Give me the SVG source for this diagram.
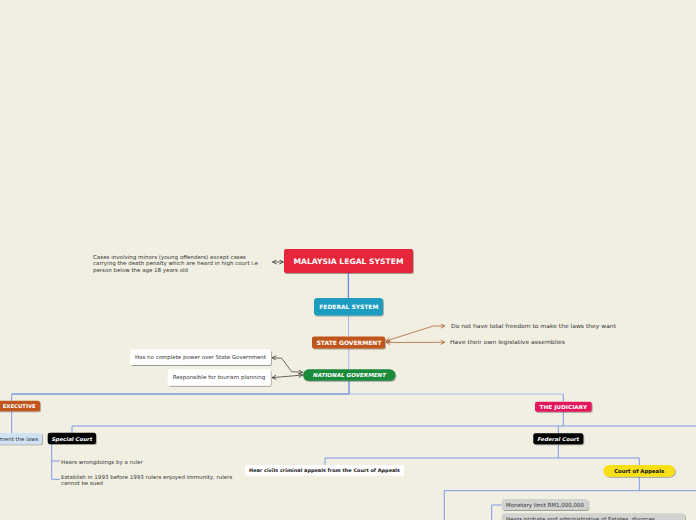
<svg xmlns="http://www.w3.org/2000/svg" width="696" height="520" viewBox="0 0 696 520">
<defs>
<filter id="sh" x="-10%" y="-20%" width="130%" height="160%">
<feDropShadow dx="0.8" dy="1" stdDeviation="0.6" flood-color="#000" flood-opacity="0.35"/>
</filter>
<marker id="ad" viewBox="0 0 6 6" refX="5.5" refY="3" markerWidth="5" markerHeight="5" orient="auto-start-reverse" markerUnits="userSpaceOnUse">
<path d="M0.5,0.5 L5.5,3 L0.5,5.5" fill="none" stroke="#444" stroke-width="1"/>
</marker>
<marker id="ao" viewBox="0 0 6 6" refX="5.5" refY="3" markerWidth="5" markerHeight="5" orient="auto-start-reverse" markerUnits="userSpaceOnUse">
<path d="M0.5,0.5 L5.5,3 L0.5,5.5" fill="none" stroke="#b0653a" stroke-width="1"/>
</marker>
</defs>
<style>
text{font-family:"DejaVu Sans","Verdana",sans-serif}
.wb{fill:#fff;font-weight:bold}
.wbi{fill:#fff;font-weight:bold;font-style:italic}
.bb{fill:#111;font-weight:bold}
.t{fill:#333}
.ln{fill:none;stroke:#7d9be8;stroke-width:1}
.lnd{fill:none;stroke:#3f6fe8;stroke-width:1}
.lnl{fill:none;stroke:#a8b8ea;stroke-width:1}
.ar{fill:none;stroke:#444;stroke-width:0.8}
.ao{fill:none;stroke:#b0653a;stroke-width:0.8}
</style>
<rect width="696" height="520" fill="#f1efe2"/>

<g id="connectors">
<path class="lnd" d="M348.3,273 V298" stroke="#2a5cf6"/>
<path class="lnl" d="M348.5,315.7 V336.5 M348.7,348.7 V369.3"/>
<path class="lnd" d="M349,380.7 V394"/>
<path class="lnd" d="M11.7,394 H349"/>
<path class="lnl" d="M349,394 H563.3"/>
<path class="ln" d="M11.7,394 V400.7 M11.7,411 V433"/>
<path class="ln" d="M563.3,394 V401.7 M563.3,411.7 V426"/>
<path class="ln" d="M72,432.7 V426 H696 M558.3,426 V433.3"/>
<path class="ln" d="M558.3,444.3 V458 M325,465 V458 H639.3 V465"/>
<path class="ln" d="M639.3,476.7 V490.7 M444.3,520 V490.7 H696"/>
<path class="ln" d="M491.7,520 V505 H501.7"/>
<path class="ln" d="M51.7,444 V479.3 H60 M51.7,461 H60"/>
<path class="ar" d="M272.5,262 H283.5" marker-start="url(#ad)" marker-end="url(#ad)"/>
<path class="ar" d="M302.7,372.3 L291.7,371.7 L281.7,358.3 L272,357.7" marker-start="url(#ad)" marker-end="url(#ad)"/>
<path class="ar" d="M302.7,375 L272,377.7" marker-start="url(#ad)" marker-end="url(#ad)"/>
<path class="ao" d="M386,341 L433.3,326 L445,326" marker-start="url(#ao)" marker-end="url(#ao)"/>
<path class="ao" d="M386,342.5 L445,342.3" marker-start="url(#ao)" marker-end="url(#ao)"/>
</g>

<g id="title">
<rect x="284" y="249" width="129" height="24" rx="2" fill="#e8283a" filter="url(#sh)"/>
<text class="wb" x="348.5" y="264" font-size="7.5" text-anchor="middle" textLength="110" lengthAdjust="spacingAndGlyphs">MALAYSIA LEGAL SYSTEM</text>
</g>

<g id="minors">
<text class="t" font-size="5.3"><tspan x="93" y="258.6" textLength="153" lengthAdjust="spacingAndGlyphs">Cases involving minors (young offenders) except cases</tspan><tspan x="93" y="265" textLength="165" lengthAdjust="spacingAndGlyphs">carrying the death penalty which are heard in high court i.e</tspan><tspan x="93" y="271.5" textLength="95" lengthAdjust="spacingAndGlyphs">person below the age 18 years old</tspan></text>
</g>

<g id="federal-system">
<rect x="314" y="298" width="69" height="17.5" rx="3" fill="#1b9dc0" filter="url(#sh)"/>
<text class="wb" x="348.8" y="309" font-size="6" text-anchor="middle" textLength="59" lengthAdjust="spacingAndGlyphs">FEDERAL SYSTEM</text>
</g>

<g id="state-gov">
<rect x="312" y="336.5" width="73" height="12" rx="2" fill="#c0561e" filter="url(#sh)"/>
<text class="wb" x="349" y="344.8" font-size="6" text-anchor="middle" textLength="65" lengthAdjust="spacingAndGlyphs">STATE GOVERMENT</text>
</g>

<g id="no-freedom">
<text class="t" x="451" y="328" font-size="5.6" textLength="165" lengthAdjust="spacingAndGlyphs">Do not have total freedom to make the laws they want</text>
</g>
<g id="assemblies">
<text class="t" x="450" y="344.2" font-size="5.6" textLength="115" lengthAdjust="spacingAndGlyphs">Have their own legislative assemblies</text>
</g>

<g id="national-gov">
<rect x="303" y="369.3" width="92.5" height="11.5" rx="5.7" fill="#1b8a3a" filter="url(#sh)"/>
<text class="wbi" x="349.5" y="377.2" font-size="5.5" text-anchor="middle" textLength="73" lengthAdjust="spacingAndGlyphs">NATIONAL GOVERMENT</text>
</g>

<g id="no-power">
<rect x="130" y="349.3" width="141" height="15.7" rx="2" fill="#fff" filter="url(#sh)"/>
<text class="t" x="135" y="359.2" font-size="5.4" textLength="131" lengthAdjust="spacingAndGlyphs">Has no complete power over State Government</text>
</g>
<g id="tourism">
<rect x="167.7" y="369.3" width="103" height="16.4" rx="2" fill="#fff" filter="url(#sh)"/>
<text class="t" x="172.7" y="379.4" font-size="5.4" textLength="92.6" lengthAdjust="spacingAndGlyphs">Responsible for tourism planning</text>
</g>

<g id="executive">
<rect x="-8" y="400.7" width="48" height="10.5" rx="2" fill="#c0561e" filter="url(#sh)"/>
<text class="wb" x="35.7" y="408.2" font-size="5.2" text-anchor="end" textLength="33" lengthAdjust="spacingAndGlyphs">EXECUTIVE</text>
</g>

<g id="implement">
<rect x="-20" y="433" width="62" height="11.3" rx="2" fill="#cfe2f3" filter="url(#sh)"/>
<text class="t" x="38.3" y="440.9" font-size="5.4" text-anchor="end" textLength="54" lengthAdjust="spacingAndGlyphs">Implement the laws</text>
</g>

<g id="special-court">
<rect x="47.7" y="432.7" width="48.3" height="11.3" rx="2" fill="#000" filter="url(#sh)"/>
<text class="wbi" x="72" y="440.6" font-size="5.2" text-anchor="middle" textLength="40.6" lengthAdjust="spacingAndGlyphs">Special Court</text>
</g>

<g id="wrongdoings">
<text class="t" x="61" y="463.6" font-size="5.3" textLength="81.7" lengthAdjust="spacingAndGlyphs">Hears wrongdoings by a ruler</text>
</g>
<g id="establish">
<text class="t" font-size="5.3"><tspan x="61" y="479.1" textLength="171.3" lengthAdjust="spacingAndGlyphs">Establish in 1993 before 1993 rulers enjoyed immunity, rulers</tspan><tspan x="61" y="485.2" textLength="42" lengthAdjust="spacingAndGlyphs">cannot be sued</tspan></text>
</g>

<g id="judiciary">
<rect x="535" y="401.7" width="56.7" height="10" rx="2" fill="#e2195c" filter="url(#sh)"/>
<text class="wb" x="563.3" y="408.9" font-size="5.3" text-anchor="middle" textLength="47.7" lengthAdjust="spacingAndGlyphs">THE JUDICIARY</text>
</g>

<g id="federal-court">
<rect x="533.3" y="433.3" width="50" height="11" rx="2" fill="#000" filter="url(#sh)"/>
<text class="wbi" x="558.3" y="441" font-size="5.2" text-anchor="middle" textLength="41.6" lengthAdjust="spacingAndGlyphs">Federal Court</text>
</g>

<g id="hear-civils">
<rect x="245" y="465" width="159" height="10.7" rx="2" fill="#fff"/>
<text class="bb" x="249" y="472.3" font-size="4.8" textLength="151" lengthAdjust="spacingAndGlyphs">Hear civils criminal appeals from the Court of Appeals</text>
</g>

<g id="court-of-appeals">
<rect x="603.3" y="465" width="71.7" height="11.7" rx="5.8" fill="#f7e017" filter="url(#sh)"/>
<text class="bb" x="639.2" y="473" font-size="5.3" text-anchor="middle" textLength="50" lengthAdjust="spacingAndGlyphs">Court of Appeals</text>
</g>

<g id="monetary">
<rect x="501.7" y="499" width="86.6" height="11" rx="3" fill="#d2d2d0" filter="url(#sh)"/>
<text class="t" x="506" y="506.7" font-size="5.4" textLength="78" lengthAdjust="spacingAndGlyphs">Monetary limit RM1,000,000</text>
</g>

<g id="probate">
<rect x="501.7" y="513.3" width="183.3" height="16" rx="3" fill="#d2d2d0" filter="url(#sh)"/>
<text class="t" x="506" y="521.4" font-size="5.4" textLength="149" lengthAdjust="spacingAndGlyphs">Hears probate and administrative of Estates, divorces</text>
</g>
</svg>
